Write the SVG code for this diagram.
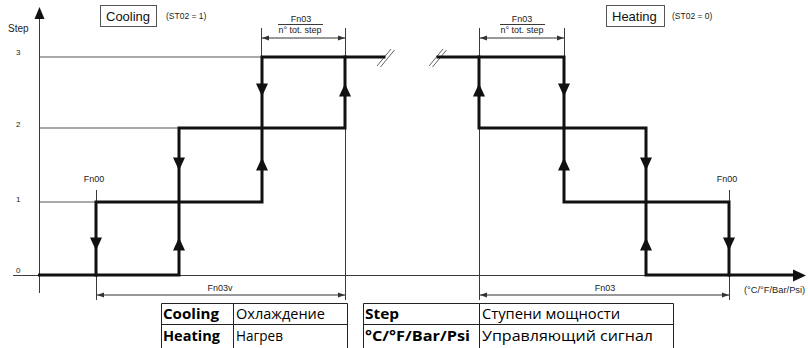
<svg xmlns="http://www.w3.org/2000/svg" width="808" height="348" viewBox="0 0 808 348">
<style>
.thin{stroke:#3a3a3a;stroke-width:1;fill:none}
.lvl{stroke:#555;stroke-width:1;fill:none}
.thick{stroke:#111;stroke-width:3;fill:none;stroke-linejoin:miter;stroke-linecap:square}
.dim{stroke:#333;stroke-width:1;fill:none;marker-start:url(#ds);marker-end:url(#de)}
.sl{stroke:#666;stroke-width:1}
.lab{font-family:"Liberation Sans",Arial,sans-serif;font-size:9px;fill:#222}
.ttl{font-family:"Liberation Sans",Arial,sans-serif;font-size:13px;fill:#111}
.tb{font-family:"Open Sans","Noto Sans",sans-serif;font-size:14px;fill:#000;font-weight:bold}
.tr{font-family:"Open Sans","Noto Sans",sans-serif;font-size:14px;fill:#000}
.box{fill:none;stroke:#555;stroke-width:1}
.tab{fill:none;stroke:#222;stroke-width:1}
</style>
<defs>
<marker id="de" markerWidth="8" markerHeight="6" refX="7" refY="3" orient="auto" markerUnits="userSpaceOnUse"><path d="M0,0.5 L7,3 L0,5.5 Z" fill="#333"/></marker>
<marker id="ds" markerWidth="8" markerHeight="6" refX="0" refY="3" orient="auto" markerUnits="userSpaceOnUse"><path d="M7,0.5 L0,3 L7,5.5 Z" fill="#333"/></marker>
<polygon id="dn" points="-6,-6.5 6,-6.5 0,6.5" fill="#111"/>
<polygon id="up" points="0,-6.5 -6,6.5 6,6.5" fill="#111"/>
</defs>

<g id="axes">
<line class="thin" x1="39.5" y1="16" x2="39.5" y2="293"/>
<polygon points="39.5,7 34.5,19 44.5,19" fill="#111"/>
<line class="thin" x1="13" y1="275.5" x2="795" y2="275.5"/>
<polygon points="806,275.5 793,269.5 793,281.5" fill="#111"/>
<text class="lab" x="8" y="32" style="font-size:10px">Step</text>
<text class="lab" x="16" y="55" style="font-size:8px">3</text>
<text class="lab" x="16" y="127" style="font-size:8px">2</text>
<text class="lab" x="16" y="202" style="font-size:8px">1</text>
<text class="lab" x="16" y="273" style="font-size:8px">0</text>
<text class="lab" x="744" y="293" style="font-size:9.3px">(°C/°F/Bar/Psi)</text>
</g>

<g id="cooling-title">
<rect class="box" x="100.5" y="5.5" width="56" height="21"/>
<text class="ttl" x="106" y="21">Cooling</text>
<text class="lab" x="166" y="19" style="font-size:8.5px">(ST02 = 1)</text>
</g>

<g id="heating-title">
<rect class="box" x="606.5" y="5.5" width="58" height="21"/>
<text class="ttl" x="612" y="21">Heating</text>
<text class="lab" x="672" y="19" style="font-size:8.5px">(ST02 = 0)</text>
</g>

<g id="guides">
<line class="lvl" x1="39.5" y1="57" x2="262" y2="57"/>
<line class="lvl" x1="39.5" y1="128" x2="179" y2="128"/>
<line class="lvl" x1="39.5" y1="202" x2="96" y2="202"/>
<line class="thin" x1="96.5" y1="190" x2="96.5" y2="300"/>
<line class="thin" x1="261.5" y1="28" x2="261.5" y2="57"/>
<line class="thin" x1="345.5" y1="28" x2="345.5" y2="300"/>
<line class="thin" x1="479.5" y1="28" x2="479.5" y2="300"/>
<line class="thin" x1="564.5" y1="28" x2="564.5" y2="57"/>
<line class="thin" x1="729.5" y1="190" x2="729.5" y2="300"/>
<line class="sl" x1="377" y1="66" x2="391" y2="49"/>
<line class="sl" x1="380.5" y1="67" x2="394.5" y2="50"/>
<line class="sl" x1="429" y1="66" x2="443" y2="49"/>
<line class="sl" x1="432.5" y1="67" x2="446.5" y2="50"/>
</g>

<g id="cooling-curve">
<polyline class="thick" points="39.5,275 179,275 179,128 345,128 345,57"/>
<polyline class="thick" points="96,275 96,202 262,202 262,57 384,57"/>
<use href="#dn" x="96" y="244"/>
<use href="#up" x="179" y="244"/>
<use href="#dn" x="179" y="164"/>
<use href="#up" x="262" y="164"/>
<use href="#dn" x="262" y="90"/>
<use href="#up" x="345" y="90"/>
</g>

<g id="heating-curve">
<polyline class="thick" points="438,57 564,57 564,202 729,202 729,275"/>
<polyline class="thick" points="479,57 479,128 646,128 646,275 793,275"/>
<use href="#up" x="479" y="90"/>
<use href="#dn" x="564" y="90"/>
<use href="#up" x="564" y="164"/>
<use href="#dn" x="646" y="164"/>
<use href="#up" x="646" y="244"/>
<use href="#dn" x="729" y="244"/>
</g>

<g id="dimensions">
<line class="dim" x1="262" y1="38" x2="345" y2="38"/>
<text class="lab" x="301" y="22" text-anchor="middle">Fn03</text>
<line class="thin" x1="278" y1="24.5" x2="323" y2="24.5"/>
<text class="lab" x="300" y="33" text-anchor="middle">n° tot. step</text>
<line class="dim" x1="480" y1="38" x2="564" y2="38"/>
<text class="lab" x="522" y="22" text-anchor="middle">Fn03</text>
<line class="thin" x1="500" y1="24.5" x2="545" y2="24.5"/>
<text class="lab" x="522" y="33" text-anchor="middle">n° tot. step</text>
<line class="dim" x1="97" y1="295" x2="345" y2="295"/>
<text class="lab" x="220" y="291" text-anchor="middle">Fn03v</text>
<line class="dim" x1="480" y1="295" x2="729" y2="295"/>
<text class="lab" x="605" y="291" text-anchor="middle">Fn03</text>
<text class="lab" x="94" y="182" text-anchor="middle">Fn00</text>
<text class="lab" x="727" y="182" text-anchor="middle">Fn00</text>
</g>

<g id="legend-left">
<path class="tab" d="M161.5,348 V303.5 H347.5 V348 M161.5,324.5 H347.5 M233.5,303.5 V348"/>
<text class="tb" x="163" y="319" textLength="56" lengthAdjust="spacingAndGlyphs">Cooling</text>
<text class="tr" x="236" y="319" textLength="89" lengthAdjust="spacingAndGlyphs">Охлаждение</text>
<text class="tb" x="163" y="341" textLength="57" lengthAdjust="spacingAndGlyphs">Heating</text>
<text class="tr" x="236" y="341" textLength="47" lengthAdjust="spacingAndGlyphs">Нагрев</text>
</g>

<g id="legend-right">
<path class="tab" d="M363.5,348 V303.5 H673.5 V348 M363.5,324.5 H673.5 M479.5,303.5 V348"/>
<text class="tb" x="365" y="319" textLength="34" lengthAdjust="spacingAndGlyphs">Step</text>
<text class="tr" x="482" y="319" textLength="138" lengthAdjust="spacingAndGlyphs">Ступени мощности</text>
<text class="tb" x="365" y="341" textLength="105" lengthAdjust="spacingAndGlyphs">°C/°F/Bar/Psi</text>
<text class="tr" x="482" y="341" textLength="171" lengthAdjust="spacingAndGlyphs">Управляющий сигнал</text>
</g>
</svg>
